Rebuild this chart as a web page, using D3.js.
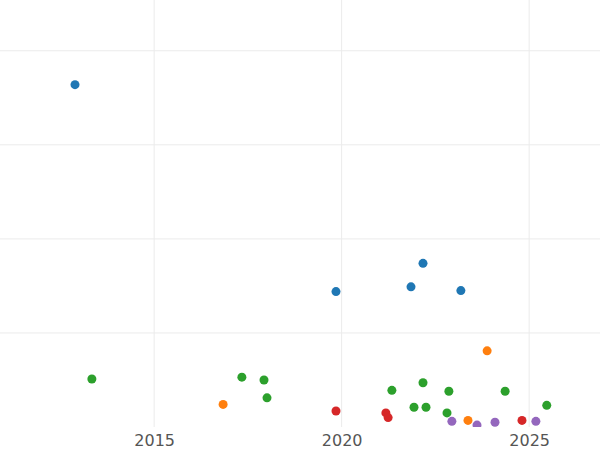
<!DOCTYPE html>
<html lang="en">
<head>
<meta charset="UTF-8">
<style>
    * { margin: 0; padding: 0; }
    html, body { overflow: hidden; background: #fff; }
</style>
</head>
<body>
<div id="chart"></div>
<script src="https://cdn.jsdelivr.net/npm/d3@7"></script>
<script>
const groups = ['blue', 'green', 'orange', 'red', 'purple']
const colors = ['#1f77b4', '#2ca02c', '#ff7f0e', '#d62728', '#9467bd']
const years = [
    [2012.89, 2019.85, 2021.85, 2022.17, 2023.18],
    [2013.34, 2017.34, 2017.93, 2018.01, 2021.34, 2022.17, 2021.93, 2022.25, 2022.86, 2022.81, 2024.36, 2025.47],
    [2016.84, 2023.88, 2023.37],
    [2019.85, 2021.18, 2021.24, 2024.81],
    [2022.94, 2023.61, 2024.09, 2025.18]
]
const values = [
    [36.4, 14.4, 14.9, 17.4, 14.5],
    [5.1, 5.3, 5.0, 3.1, 3.9, 4.7, 2.1, 2.1, 3.8, 1.5, 3.8, 2.3],
    [2.4, 8.1, 0.7],
    [1.7, 1.5, 1.0, 0.7],
    [0.6, 0.2, 0.5, 0.6]
]
const xTicks = [2015, 2020, 2025]
const yTicks = [10, 20, 30, 40]

function drawChart() {
    const width = 600, height = 450, plotBottom = 427

    const svg = d3.select('#chart').append('svg')
        .attr('width', width).attr('height', height)

    const x = d3.scaleLinear().domain([2010.89, 2026.89]).range([0, width])
    const y = d3.scaleLinear().domain([0, 45.4]).range([plotBottom, 0])

    svg.append('clipPath').attr('id', 'clip')
        .append('rect').attr('width', width).attr('height', plotBottom)

    const grid = svg.append('g').attr('stroke', '#ebebeb').attr('stroke-width', 1)
    grid.selectAll('line.h').data(yTicks).join('line')
        .attr('class', 'h')
        .attr('x1', 0).attr('x2', width)
        .attr('y1', d => y(d)).attr('y2', d => y(d))
    grid.selectAll('line.v').data(xTicks).join('line')
        .attr('class', 'v')
        .attr('x1', d => x(d)).attr('x2', d => x(d))
        .attr('y1', 0).attr('y2', plotBottom)

    const points = []
    groups.forEach((g, gi) => years[gi].forEach((yr, i) => points.push({ yr, v: values[gi][i], c: colors[gi] })))

    svg.append('g').attr('clip-path', 'url(#clip)')
        .selectAll('circle').data(points).join('circle')
        .attr('cx', d => x(d.yr)).attr('cy', d => y(d.v))
        .attr('r', 4.5).attr('fill', d => d.c)

    const axis = svg.append('g').attr('transform', `translate(0,${plotBottom})`)
        .call(d3.axisBottom(x).tickValues(xTicks).tickFormat(d3.format('d')).tickSize(0).tickPadding(8))
    axis.select('.domain').remove()
    axis.selectAll('text')
        .attr('fill', '#555').style('font-family', 'DejaVu Sans').style('font-size', '16px')
}

drawChart()
</script>
</body>
</html>
